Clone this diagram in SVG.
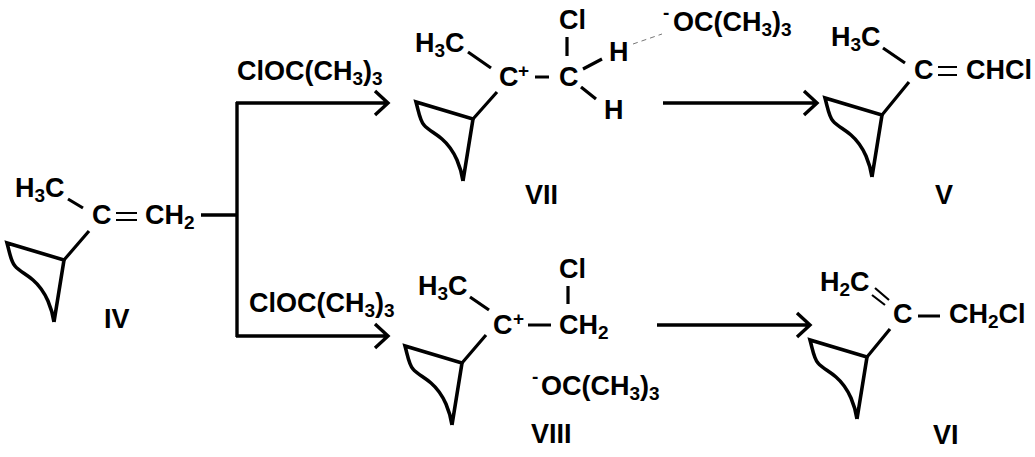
<svg xmlns="http://www.w3.org/2000/svg" width="1035" height="457" viewBox="0 0 1035 457">
<style>
text{font-family:"Liberation Sans",Arial,sans-serif;font-weight:700;font-size:27px;fill:#000}
.s{font-size:19px}
.b{fill:none;stroke:#000;stroke-width:3.2}
.r{fill:none;stroke:#000;stroke-width:3.6}
.t{fill:none;stroke:#000;stroke-width:2.2}
.a{fill:none;stroke:#000;stroke-width:3.4}
</style>
<defs>
<path id="ring" class="r" d="M-10 62L0 0L-57 -17C-54 -6 -53 2 -49 6C-45 11 -38 14 -31 20C-24 26 -20 32 -16 41C-13 48 -11 55 -10 62"/>
</defs>
<g id="connectors">
<path class="a" d="M201 215H236M237 102V337M236 336H387M236 103H387M375 91L388 103L375 115M375 324L388 336L375 348"/>
<path class="a" d="M663 103H816M804 91L817 103L804 115"/>
<path class="a" d="M657 325H809M797 313L810 325L797 337"/>
<path d="M633 44L662 34" fill="none" stroke="#777" stroke-width="1" stroke-dasharray="5 4"/>
</g>
<g id="node-iv">
<use href="#ring" x="64" y="260"/>
<path class="b" d="M64 260L89 231M68 199L83 208"/>
<path class="t" d="M116 213H137M116 220H137"/>
<text x="15" y="197">H<tspan class="s" dy="5">3</tspan><tspan dy="-5">C</tspan></text>
<text x="92" y="224">C</text>
<text x="145" y="224">CH<tspan class="s" dy="5">2</tspan></text>
<text x="104" y="328">IV</text>
</g>
<g id="node-vii">
<use href="#ring" x="473" y="119"/>
<path class="b" d="M473 119L497 92M468 52L491 68M535 77H549M567 37V56M583 69L602 59M581 87L596 99"/>
<text x="415" y="52">H<tspan class="s" dy="5">3</tspan><tspan dy="-5">C</tspan></text>
<text x="499" y="86">C</text><text x="518" y="77" class="s">+</text>
<text x="559" y="86">C</text>
<text x="559" y="29">Cl</text>
<text x="609" y="61">H</text>
<text x="604" y="119">H</text>
<text x="525" y="204">VII</text>
</g>
<g id="reagent-oc-top">
<text x="663" y="19" class="s">-</text>
<text x="673" y="31">OC(CH<tspan class="s" dy="5">3</tspan><tspan dy="-5">)</tspan><tspan class="s" dy="5">3</tspan></text>
</g>
<g id="node-v">
<use href="#ring" x="882" y="115"/>
<path class="b" d="M882 115L909 82M883 48L905 63"/>
<path class="t" d="M938 67H957M938 75H957"/>
<text x="831" y="46">H<tspan class="s" dy="5">3</tspan><tspan dy="-5">C</tspan></text>
<text x="914" y="79">C</text>
<text x="966" y="79">CHCl</text>
<text x="935" y="204">V</text>
</g>
<g id="label-top"><text x="237" y="80">ClOC(CH<tspan class="s" dy="5">3</tspan><tspan dy="-5">)</tspan><tspan class="s" dy="5">3</tspan></text></g>
<g id="label-bottom"><text x="249" y="312">ClOC(CH<tspan class="s" dy="5">3</tspan><tspan dy="-5">)</tspan><tspan class="s" dy="5">3</tspan></text></g>
<g id="node-viii">
<use href="#ring" x="462" y="363"/>
<path class="b" d="M462 363L486 335M470 297L489 310M528 325H551M568 286V304"/>
<text x="418" y="295">H<tspan class="s" dy="5">3</tspan><tspan dy="-5">C</tspan></text>
<text x="493" y="334">C</text><text x="513" y="325" class="s">+</text>
<text x="559" y="334">CH<tspan class="s" dy="5">2</tspan></text>
<text x="559" y="278">Cl</text>
<text x="532" y="383" class="s">-</text>
<text x="541" y="395">OC(CH<tspan class="s" dy="5">3</tspan><tspan dy="-5">)</tspan><tspan class="s" dy="5">3</tspan></text>
<text x="531" y="443">VIII</text>
</g>
<g id="node-vi">
<use href="#ring" x="867" y="357"/>
<path class="b" d="M867 357L890 329M918 316H940"/>
<path class="t" d="M875 288L889 300M872 295L885 305"/>
<text x="820" y="291">H<tspan class="s" dy="5">2</tspan><tspan dy="-5">C</tspan></text>
<text x="893" y="323">C</text>
<text x="949" y="323">CH<tspan class="s" dy="5">2</tspan><tspan dy="-5">Cl</tspan></text>
<text x="933" y="444">VI</text>
</g>
</svg>
